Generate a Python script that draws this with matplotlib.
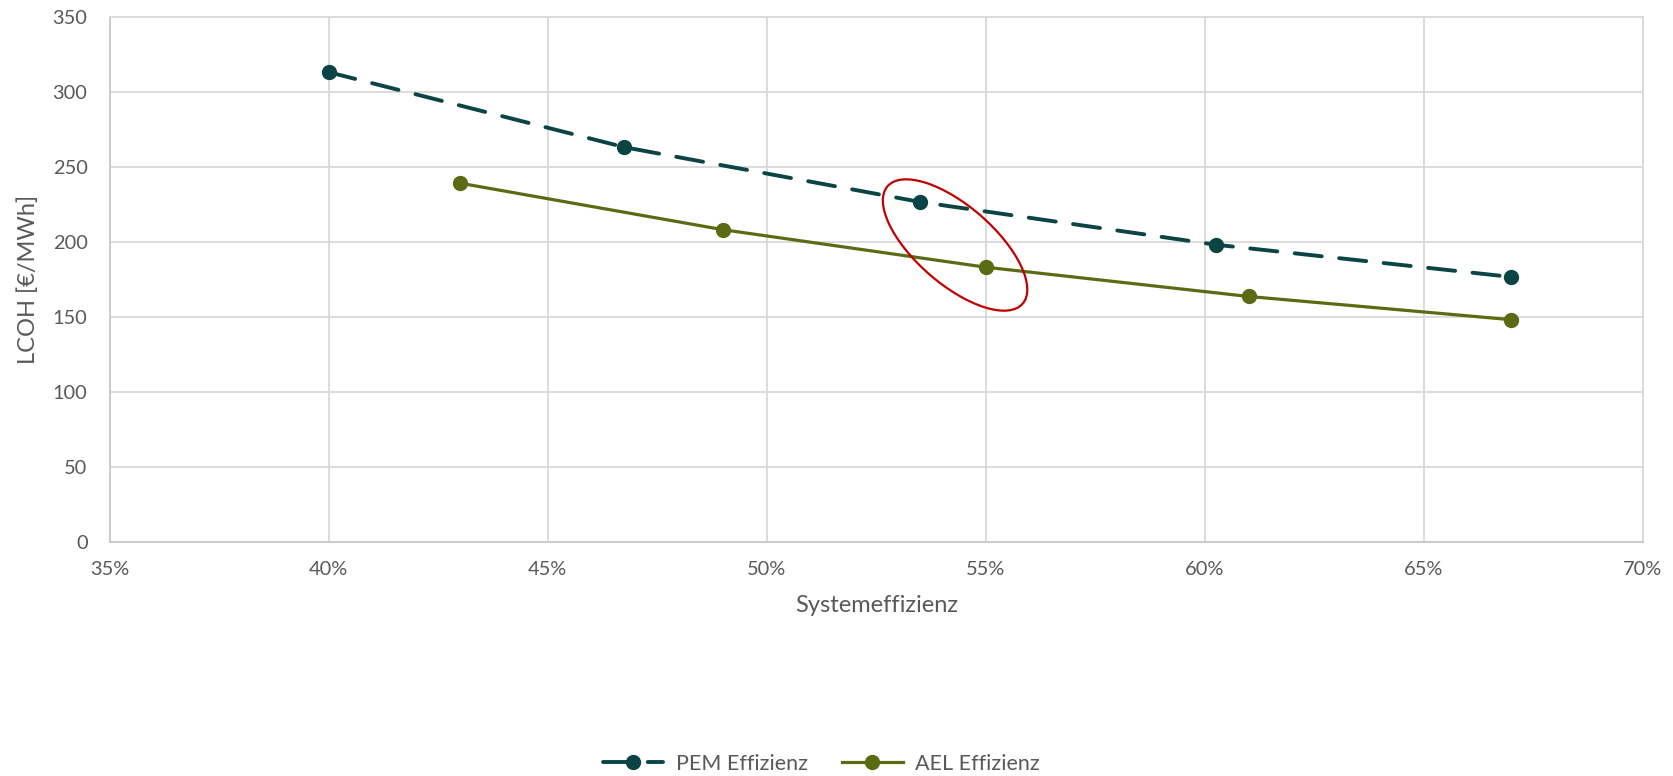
import matplotlib
matplotlib.use("Agg")
import matplotlib.pyplot as plt
from matplotlib.patches import Ellipse
from matplotlib.transforms import ScaledTranslation
from matplotlib.ticker import FuncFormatter

# data
pem_eff = [40.0, 46.75, 53.5, 60.25, 67.0]
pem_lcoh = [313, 263, 226.5, 198, 176.5]
ael_eff = [43.0, 49.0, 55.0, 61.0, 67.0]
ael_lcoh = [239, 208, 183, 163.5, 148]
series_labels = ["PEM Effizienz", "AEL Effizienz"]

plt.rcParams['font.family'] = ['Lato', 'DejaVu Sans']
text_col = '#595959'
grid_col = '#D9D9D9'

fig = plt.figure(figsize=(16.73, 7.76), dpi=100)
ax = fig.add_axes([0.0656, 0.3019, 0.9163, 0.6766])

ax.plot(pem_eff, pem_lcoh, color='#0B4444', lw=2.8, ls=(0, (7, 4.5)),
        dash_capstyle='round', marker='o', markersize=10, label=series_labels[0])
ax.plot(ael_eff, ael_lcoh, color='#5A6B14', lw=2.3,
        marker='o', markersize=10, label=series_labels[1])

# red highlight ellipse, sized in inches, centred in data coords
ell = Ellipse((0, 0), width=1.79, height=0.78, angle=-41,
              transform=fig.dpi_scale_trans + ScaledTranslation(54.3, 197.8, ax.transData),
              fill=False, edgecolor='#C00000', lw=1.6, zorder=5)
ax.add_patch(ell)

ax.set_xlim(35, 70)
ax.set_ylim(0, 350)
ax.set_xticks(range(35, 71, 5))
ax.set_yticks(range(0, 351, 50))
ax.xaxis.set_major_formatter(FuncFormatter(lambda v, p: f"{int(v)}%"))
ax.grid(True, color=grid_col, lw=1.3)
ax.set_axisbelow(True)
for s in ax.spines.values():
    s.set_color(grid_col)
    s.set_linewidth(1.3)
ax.spines['left'].set_color('#C8C8C8')
ax.spines['bottom'].set_color('#C8C8C8')
ax.tick_params(length=0, labelsize=14.4, colors=text_col)
ax.tick_params(axis='x', pad=14)
ax.tick_params(axis='y', pad=16)

ax.set_xlabel('Systemeffizienz', fontsize=17, color=text_col, labelpad=12)
ax.set_ylabel('LCOH [€/MWh]', fontsize=17, color=text_col, labelpad=10)

fig.legend(loc='center', bbox_to_anchor=(0.491, 0.016), ncol=2, frameon=False,
           fontsize=15.5, handlelength=2.8, handletextpad=0.6, columnspacing=1.6,
           labelcolor=text_col)

fig.savefig('out.png', dpi=100)
